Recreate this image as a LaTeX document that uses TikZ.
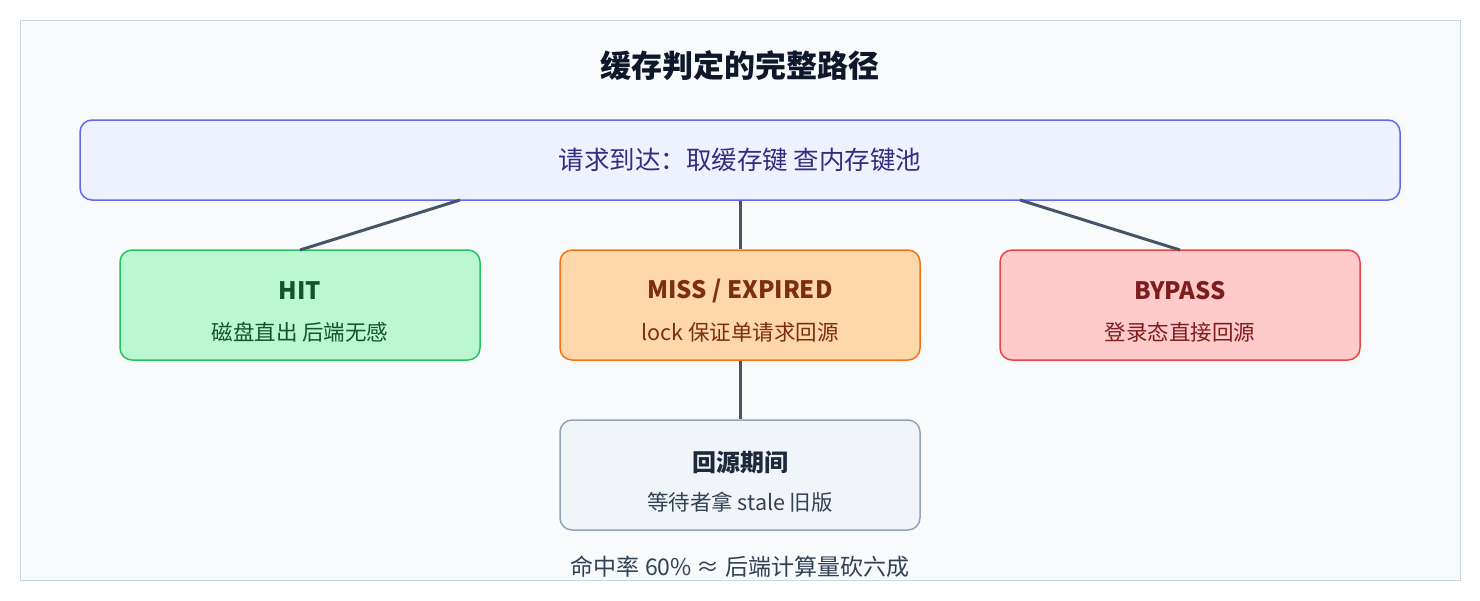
\documentclass[tikz,border=0pt]{standalone}
\usepackage{fontspec}
\setmainfont{Noto Sans CJK SC}
\definecolor{cline}{HTML}{475569}
\definecolor{cbg}{HTML}{F8FAFC}
\definecolor{cbgb}{HTML}{CBD5E1}
\definecolor{ctitle}{HTML}{0F172A}
\definecolor{ctopf}{HTML}{EEF2FF}
\definecolor{ctopd}{HTML}{6366F1}
\definecolor{ctopt}{HTML}{312E81}
\definecolor{chitf}{HTML}{BBF7D0}
\definecolor{chitd}{HTML}{22C55E}
\definecolor{chitt}{HTML}{14532D}
\definecolor{cmisf}{HTML}{FED7AA}
\definecolor{cmisd}{HTML}{F97316}
\definecolor{cmist}{HTML}{7C2D12}
\definecolor{cbypf}{HTML}{FECACA}
\definecolor{cbypd}{HTML}{EF4444}
\definecolor{cbypt}{HTML}{7F1D1D}
\definecolor{corif}{HTML}{F1F5F9}
\definecolor{corid}{HTML}{94A3B8}
\definecolor{corit}{HTML}{1E293B}
\definecolor{cfoot}{HTML}{334155}
\begin{document}
\begin{tikzpicture}[x=1pt,y=-1pt,
  box/.style={draw,rounded corners=12pt,line width=1.5pt,inner sep=0pt},
  conn/.style={draw=cline,line width=3pt},
  ttl/.style={font=\fontsize{24}{28}\selectfont\bfseries},
  sub/.style={font=\fontsize{21.5}{25}\selectfont}]
\useasboundingbox[fill=white] (0,0) rectangle (1480,600);
\draw[fill=cbg, draw=cbgb, line width=1pt] (20,20) rectangle (1460,580);
\node[font=\fontsize{31}{36}\selectfont\bfseries, text=ctitle] (title) at (740,66) {缓存判定的完整路径};
\node[box, fill=ctopf, draw=ctopd, minimum width=1320pt, minimum height=80pt,
  font=\fontsize{25.5}{30}\selectfont, text=ctopt] (top) at (740,160) {请求到达：取缓存键 查内存键池};
\node[box, fill=chitf, draw=chitd, minimum width=360pt, minimum height=110pt] (hit) at (300,305) {};
\node[ttl, text=chitt] (hitt) at (300,291) {HIT};
\node[sub, text=chitt] (hits) at (300,332) {磁盘直出 后端无感};
\node[box, fill=cmisf, draw=cmisd, minimum width=360pt, minimum height=110pt] (miss) at (740,305) {};
\node[ttl, text=cmist] (misst) at (740,291) {MISS / EXPIRED};
\node[sub, text=cmist] (misss) at (740,332) {lock 保证单请求回源};
\node[box, fill=cbypf, draw=cbypd, minimum width=360pt, minimum height=110pt] (byp) at (1180,305) {};
\node[ttl, text=cbypt] (bypt) at (1180,291) {BYPASS};
\node[sub, text=cbypt] (byps) at (1180,332) {登录态直接回源};
\node[box, fill=corif, draw=corid, minimum width=360pt, minimum height=110pt] (orig) at (740,475) {};
\node[ttl, text=corit] (origt) at (740,462) {回源期间};
\node[sub, text=cfoot] (origs) at (740,502) {等待者拿 stale 旧版};
\coordinate (t1) at (460,200); \coordinate (h1) at (300,250);
\coordinate (t3) at (1020,200); \coordinate (b1) at (1180,250);
\draw[conn] (t1) -- (h1);
\draw[conn] (top.south) -- (miss.north);
\draw[conn] (t3) -- (b1);
\draw[conn] (miss.south) -- (orig.north);
\node[font=\fontsize{23}{27}\selectfont, text=cfoot] (foot) at (740,567) {命中率 60\% ≈ 后端计算量砍六成};
\end{tikzpicture}
\end{document}
